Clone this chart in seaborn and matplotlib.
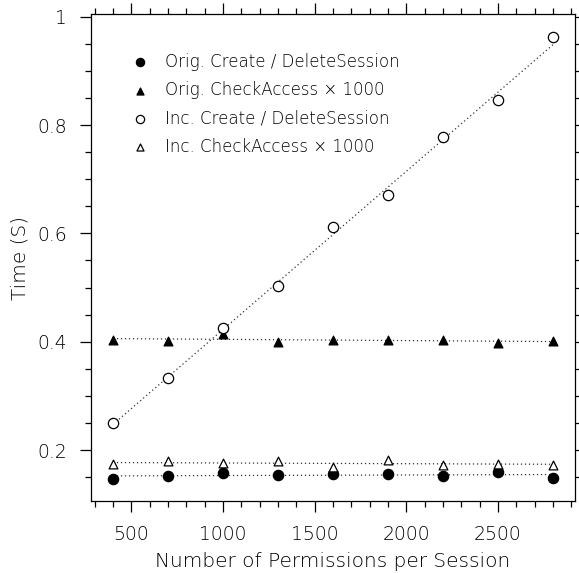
import numpy as np
import pandas as pd
import matplotlib
matplotlib.use('Agg')
import matplotlib.pyplot as plt
import seaborn as sns
from matplotlib.ticker import MultipleLocator, FuncFormatter

# permissions per session (x values shared by all series)
permissions = [400, 700, 1000, 1300, 1600, 1900, 2200, 2500, 2800]

# times in seconds
orig_create = [0.146, 0.153, 0.158, 0.154, 0.156, 0.155, 0.152, 0.159, 0.149]
orig_check = [0.404, 0.401, 0.414, 0.399, 0.404, 0.404, 0.403, 0.397, 0.401]
inc_create = [0.250, 0.333, 0.426, 0.503, 0.611, 0.670, 0.778, 0.846, 0.962]
inc_check = [0.174, 0.179, 0.176, 0.179, 0.169, 0.181, 0.173, 0.175, 0.172]

series_labels = ['Orig. Create / DeleteSession',
                 'Orig. CheckAccess \u00d7 1000',
                 'Inc. Create / DeleteSession',
                 'Inc. CheckAccess \u00d7 1000']

sns.set_theme(style='ticks')
plt.rcParams['font.family'] = ['DejaVu Sans']
plt.rcParams['font.weight'] = 'light'
plt.rcParams['text.color'] = 'black'
plt.rcParams['axes.labelcolor'] = 'black'
plt.rcParams['xtick.labelcolor'] = 'black'
plt.rcParams['ytick.labelcolor'] = 'black'
plt.rcParams['axes.labelweight'] = 'light'

fig = plt.figure(figsize=(5.79, 5.73), dpi=100)
ax = fig.add_axes([0.157, 0.1257, 0.836, 0.849])

# (values, marker, face, size) per series
styles = [
    (orig_create, 'o', 'black', 55),
    (orig_check, '^', 'black', 40),
    (inc_create, 'o', 'white', 55),
    (inc_check, '^', 'white', 40),
]

for vals, marker, face, size in styles:
    df = pd.DataFrame({'perm': permissions, 'time': vals})
    sns.regplot(data=df, x='perm', y='time', ax=ax, ci=None, marker=marker,
                color='black',
                scatter_kws=dict(s=size, facecolors=face, edgecolors='black',
                                 linewidths=0.9, alpha=1, zorder=3),
                line_kws=dict(color='#333333', lw=0.9, ls=(0, (1, 2.2)),
                              zorder=2))

ax.set_xlim(280, 2920)
ax.set_ylim(0.106, 1.004)

ax.xaxis.set_major_locator(MultipleLocator(500))
ax.xaxis.set_minor_locator(MultipleLocator(100))
ax.yaxis.set_major_locator(MultipleLocator(0.2))
ax.yaxis.set_minor_locator(MultipleLocator(0.05))
ax.yaxis.set_major_formatter(FuncFormatter(lambda v, p: '%g' % round(v, 2)))

ax.tick_params(which='both', direction='out', top=True, right=True,
               labeltop=False, labelright=False, color='black', width=0.9)
ax.tick_params(which='major', length=8, pad=9, labelsize=13.5)
ax.tick_params(which='minor', length=4)

for sp in ax.spines.values():
    sp.set_color('black')
    sp.set_linewidth(0.9)

ax.set_xlabel('Number of Permissions per Session', fontsize=14.5, labelpad=6)
ax.set_ylabel('Time (S)', fontsize=14.5, labelpad=6)

# legend built from the scatter collections drawn by regplot
handles = list(ax.collections)[:4]
leg = ax.legend(handles, series_labels, loc='upper left',
                bbox_to_anchor=(0.036, 0.952), frameon=False,
                fontsize=12, handletextpad=0.52, labelspacing=0.62,
                markerscale=0.8)

fig.savefig('out.png', dpi=100)
